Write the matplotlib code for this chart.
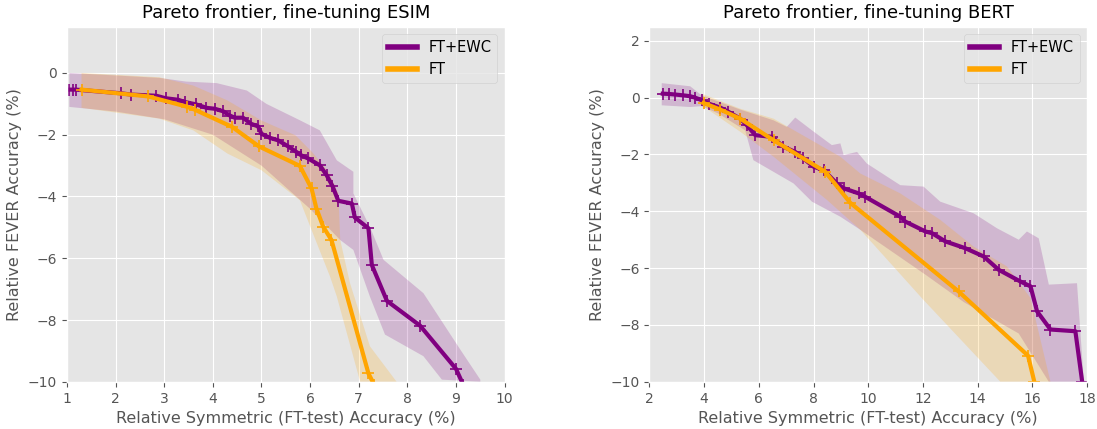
import numpy as np
import matplotlib
matplotlib.use("Agg")
import matplotlib.pyplot as plt
from matplotlib.lines import Line2D

plt.style.use("ggplot")
plt.rcParams['font.family'] = ['DejaVu Sans']

# ---- ESIM (left) ----
esim_ewc_x = [1.05, 1.12, 1.18, 2.12, 2.31, 2.84, 3.03, 3.29, 3.42, 3.66, 3.87, 4.04, 4.21,
              4.35, 4.45, 4.62, 4.79, 4.93, 5.0, 5.17, 5.34, 5.55, 5.72, 5.82, 5.96, 6.20,
              6.34, 6.46, 6.58, 6.86, 6.92, 7.20, 7.27, 7.58, 8.26, 9.0, 9.15]
esim_ewc_y = [-0.54, -0.54, -0.54, -0.66, -0.70, -0.74, -0.82, -0.87, -0.94, -1.02, -1.13,
              -1.16, -1.24, -1.38, -1.45, -1.45, -1.65, -1.73, -1.97, -2.10, -2.18, -2.38,
              -2.56, -2.67, -2.77, -2.99, -3.31, -3.66, -4.14, -4.23, -4.68, -5.03, -6.22,
              -7.38, -8.18, -9.58, -10.1]
esim_ft_x = [1.30, 2.67, 3.46, 3.63, 4.40, 4.95, 5.79, 6.03, 6.13, 6.27, 6.44, 7.20, 7.32]
esim_ft_y = [-0.54, -0.76, -1.09, -1.19, -1.75, -2.38, -3.01, -3.74, -4.39, -4.98, -5.41,
             -9.73, -10.1]

# band outlines: upper edge (left to right), then lower edge (right to left)
esim_ewc_band_x = [1.05, 2.9, 3.45, 4.08, 4.7, 5.1, 5.8, 6.2, 6.55, 6.89, 6.89, 7.24, 7.51,
                   8.33, 9.09, 9.5, 9.5,
                   8.71, 8.33, 7.54, 7.23, 6.89, 6.62, 6.0, 5.0, 4.0, 3.0, 2.0, 1.05]
esim_ewc_band_y = [0.0, -0.16, -0.28, -0.33, -0.57, -1.0, -1.54, -1.86, -2.83, -3.2, -3.9,
                   -5.02, -6.05, -7.13, -8.96, -9.93, -10.0,
                   -9.93, -9.17, -8.47, -7.24, -5.73, -5.41, -4.4, -3.0, -2.0, -1.5, -1.25,
                   -1.1]
esim_ft_band_x = [1.3, 2.9, 3.6, 4.3, 5.0, 5.7, 6.04, 6.38, 6.58, 6.62, 6.82, 7.23, 7.78,
                  7.03, 6.55, 6.41, 6.14, 5.79, 5.0, 4.3, 3.6, 2.9, 1.3]
esim_ft_band_y = [0.0, -0.14, -0.41, -0.89, -1.54, -2.02, -2.56, -3.2, -3.9, -5.41, -6.8,
                  -8.85, -10.0,
                  -10.0, -7.24, -6.59, -5.52, -4.12, -3.15, -2.61, -1.86, -1.48, -1.13]

# ---- BERT (right) ----
bert_ewc_x = [2.49, 2.70, 2.94, 3.24, 3.49, 3.67, 3.91, 4.16, 4.59, 4.89, 5.32, 5.56, 5.87,
              6.48, 6.90, 7.33, 7.63, 8.0, 8.37, 8.85, 9.10, 9.65, 9.89, 11.17, 11.35, 12.09,
              12.33, 12.82, 13.55, 14.22, 14.77, 15.56, 15.93, 16.17, 16.66, 17.57, 17.82]
bert_ewc_y = [0.14, 0.13, 0.11, 0.08, 0.05, 0.0, -0.09, -0.21, -0.35, -0.50, -0.74, -0.97,
              -1.32, -1.38, -1.73, -1.91, -2.14, -2.43, -2.55, -3.02, -3.19, -3.37, -3.49,
              -4.19, -4.36, -4.71, -4.77, -5.06, -5.30, -5.59, -6.06, -6.47, -6.64, -7.52,
              -8.16, -8.22, -10.0]
bert_ft_x = [3.98, 4.59, 5.32, 6.54, 8.43, 9.34, 13.30, 15.84, 16.07]
bert_ft_y = [-0.19, -0.42, -0.74, -1.50, -2.61, -3.70, -6.82, -9.08, -10.0]

bert_ewc_band_x = [2.45, 3.49, 3.91, 5.32, 6.54, 7.02, 7.33, 7.94, 8.67, 8.98, 9.10, 9.59,
                   9.95, 11.17, 12.02, 12.63, 13.85, 14.71, 15.5, 15.8, 16.23, 16.6, 17.63,
                   17.88,
                   16.6, 15.5, 13.5, 12.09, 9.71, 8.98, 7.94, 7.27, 5.8, 5.5, 4.5, 3.91, 3.49,
                   2.45]
bert_ewc_band_y = [0.51, 0.40, 0.08, -0.42, -0.80, -1.03, -0.70, -1.15, -1.67, -1.61, -2.02,
                   -1.91, -2.32, -3.08, -3.13, -3.66, -4.07, -4.6, -5.0, -4.71, -4.95, -6.58,
                   -6.53, -10.0,
                   -10.0, -8.3, -7.2, -6.23, -4.65, -4.19, -3.66, -3.02, -2.2, -1.15, -0.55,
                   -0.3, -0.33, -0.27]
bert_ft_band_x = [3.91, 5.32, 6.54, 8.98, 9.71, 11.17, 12.63, 13.85, 15.07, 15.93, 16.66,
                  14.83, 12.0, 9.71, 8.49, 6.54, 5.32, 3.91]
bert_ft_band_y = [0.14, -0.39, -0.74, -2.08, -2.67, -3.37, -4.30, -5.24, -5.94, -7.05, -10.0,
                  -10.0, -7.1, -4.65, -3.60, -2.08, -1.2, -0.27]

PURPLE = "purple"
ORANGE = "orange"

fig = plt.figure(figsize=(10.97, 4.29), dpi=100)
ax1 = fig.add_axes([0.061, 0.110, 0.399, 0.828])
ax2 = fig.add_axes([0.592, 0.110, 0.399, 0.828])


def draw(ax, ewc_x, ewc_y, ft_x, ft_y, ewc_bx, ewc_by, ft_bx, ft_by, title):
    ax.fill(ewc_bx, ewc_by, color=PURPLE, alpha=0.2, lw=0)
    ax.fill(ft_bx, ft_by, color=ORANGE, alpha=0.2, lw=0)
    ax.plot(ewc_x, ewc_y, color=PURPLE, lw=3, marker="+", ms=8, mew=1.2)
    ax.plot(ft_x, ft_y, color=ORANGE, lw=3, marker="+", ms=8, mew=1.2)
    ax.set_title(title, fontsize=13, color="black")
    ax.set_xlabel("Relative Symmetric (FT-test) Accuracy (%)", fontsize=11.5, color="#555555")
    ax.set_ylabel("Relative FEVER Accuracy (%)", fontsize=11.5, color="#555555")
    handles = [Line2D([], [], color=PURPLE, lw=4), Line2D([], [], color=ORANGE, lw=4)]
    ax.legend(handles, ["FT+EWC", "FT"], loc="upper right", fontsize=10.5)


draw(ax1, esim_ewc_x, esim_ewc_y, esim_ft_x, esim_ft_y,
     esim_ewc_band_x, esim_ewc_band_y, esim_ft_band_x, esim_ft_band_y,
     "Pareto frontier, fine-tuning ESIM")
ax1.set_xlim(1, 10)
ax1.set_ylim(-10, 1.5)
ax1.set_xticks(range(1, 11))
ax1.set_yticks(range(-10, 1, 2))

draw(ax2, bert_ewc_x, bert_ewc_y, bert_ft_x, bert_ft_y,
     bert_ewc_band_x, bert_ewc_band_y, bert_ft_band_x, bert_ft_band_y,
     "Pareto frontier, fine-tuning BERT")
ax2.set_xlim(2, 18)
ax2.set_ylim(-10, 2.5)
ax2.set_xticks(range(2, 19, 2))
ax2.set_yticks(range(-10, 3, 2))

fig.savefig("out.png", dpi=100)
